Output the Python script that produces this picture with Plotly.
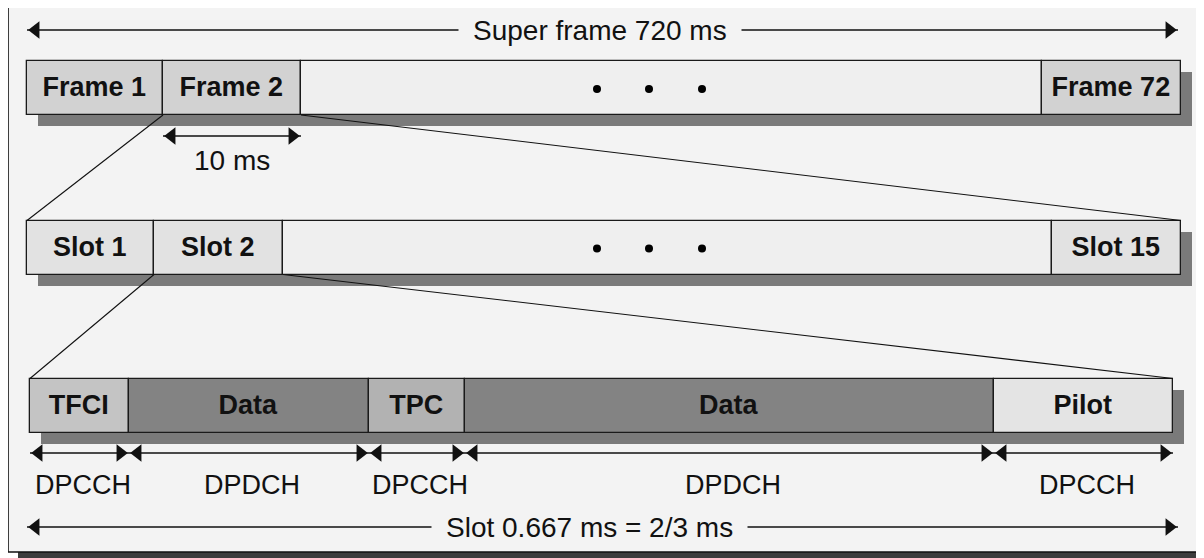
import plotly.graph_objects as go

# ---------------- data ----------------
frame_labels = ["Frame 1", "Frame 2", "", "Frame 72"]
frame_edges = [27, 163, 301, 1042, 1181]
frame_colors = ["#d2d2d2", "#d2d2d2", "#efefef", "#d2d2d2"]

slot_labels = ["Slot 1", "Slot 2", "", "Slot 15"]
slot_edges = [27, 154, 283, 1052, 1181]
slot_colors = ["#e2e2e2", "#e2e2e2", "#efefef", "#e2e2e2"]

field_labels = ["TFCI", "Data", "TPC", "Data", "Pilot"]
field_edges = [30, 129, 369, 465, 994, 1173]
field_colors = ["#c4c4c4", "#838383", "#b2b2b2", "#838383", "#e4e4e4"]
channel_labels = ["DPCCH", "DPDCH", "DPCCH", "DPDCH", "DPCCH"]

superframe_label = "Super frame 720 ms"
frame_len_label = "10 ms"
slot_len_label = "Slot 0.667 ms = 2/3 ms"

# ---------------- layout constants ----------------
W, H = 1204, 558
PAGE_MARGIN = 8          # default body margin of the html page
ROW_Y = [88, 247.5, 405.5]
ROW_H = 54
SH = 11                 # shadow offset
ARROW_TOP_Y = 30
ARROW_10MS_Y = 136
CHAN_ARROW_Y = 453
CHAN_TEXT_Y = 485
BOTTOM_ARROW_Y = 527
ELLIPSIS_X = [597, 649, 702]
BG = "#f3f3f3"
FONT = "Liberation Sans"
FS = 28
TRI = 15
TIP = TRI / 3 ** 0.5

fig = go.Figure()


def add_row(edges, labels, colors, yc):
    starts = edges[:-1]
    widths = [b - a for a, b in zip(edges[:-1], edges[1:])]
    # shadow
    fig.add_trace(go.Bar(
        orientation="h", y=[yc + SH], base=[edges[0] + SH], x=[edges[-1] - edges[0]],
        width=ROW_H, marker=dict(color="#7a7a7a", line=dict(width=0)),
        hoverinfo="skip", showlegend=False))
    fig.add_trace(go.Bar(
        orientation="h", y=[yc] * len(starts), base=starts, x=widths,
        width=ROW_H, marker=dict(color=colors, line=dict(color="#1a1a1a", width=1.3)),
        text=labels, textposition="inside", insidetextanchor="middle",
        constraintext="none", textangle=0,
        textfont=dict(family=FONT, size=FS - 1, color="#111111", weight="bold"),
        hoverinfo="skip", showlegend=False))


def add_arrow(x0, x1, y, left=True, right=True):
    fig.add_trace(go.Scatter(
        x=[x0, x1], y=[y, y], mode="lines", line=dict(color="#111111", width=1.6),
        hoverinfo="skip", showlegend=False))
    xs, sy = [], []
    if left:
        xs.append(x0 + TIP); sy.append("triangle-left")
    if right:
        xs.append(x1 - TIP); sy.append("triangle-right")
    fig.add_trace(go.Scatter(
        x=xs, y=[y] * len(xs), mode="markers",
        marker=dict(symbol=sy, size=TRI, color="#111111", line=dict(width=0)),
        hoverinfo="skip", showlegend=False))


def add_line(x0, y0, x1, y1):
    fig.add_trace(go.Scatter(
        x=[x0, x1], y=[y0, y1], mode="lines", line=dict(color="#111111", width=1.1),
        hoverinfo="skip", showlegend=False))


# rows
add_row(frame_edges, frame_labels, frame_colors, ROW_Y[0])
add_row(slot_edges, slot_labels, slot_colors, ROW_Y[1])
add_row(field_edges, field_labels, field_colors, ROW_Y[2])

# zoom lines
r0b = ROW_Y[0] + ROW_H / 2
r1t = ROW_Y[1] - ROW_H / 2
r1b = ROW_Y[1] + ROW_H / 2
r2t = ROW_Y[2] - ROW_H / 2
add_line(frame_edges[1], r0b, slot_edges[0], r1t)
add_line(frame_edges[2], r0b, slot_edges[-1], r1t)
add_line(slot_edges[1], r1b, field_edges[0], r2t)
add_line(slot_edges[2], r1b, field_edges[-1], r2t)

# ellipsis dots
for yc in ROW_Y[:2]:
    fig.add_trace(go.Scatter(
        x=ELLIPSIS_X, y=[yc + 1] * 3, mode="markers",
        marker=dict(size=8, color="#000000"), hoverinfo="skip", showlegend=False))

# arrows
add_arrow(frame_edges[0], frame_edges[-1] - 3, ARROW_TOP_Y)
add_arrow(frame_edges[1], frame_edges[2], ARROW_10MS_Y)
for a, b in zip(field_edges[:-1], field_edges[1:]):
    add_arrow(a, b, CHAN_ARROW_Y)
add_arrow(field_edges[0] - 3, field_edges[-1] + 5, BOTTOM_ARROW_Y)

annotations = [
    dict(x=(frame_edges[0] + frame_edges[-1]) / 2 - 4, y=ARROW_TOP_Y,
         text="\u2002" + superframe_label + "\u2002",
         showarrow=False, bgcolor=BG, borderpad=0,
         font=dict(family=FONT, size=FS, color="#111111")),
    dict(x=(frame_edges[1] + frame_edges[2]) / 2, y=ARROW_10MS_Y + 24, text=frame_len_label,
         showarrow=False, font=dict(family=FONT, size=FS, color="#111111")),
    dict(x=(field_edges[0] + field_edges[-1]) / 2 - 12, y=BOTTOM_ARROW_Y,
         text="\u2002" + slot_len_label + "\u2002",
         showarrow=False, bgcolor=BG, borderpad=0,
         font=dict(family=FONT, size=FS, color="#111111")),
]
for lab, a, b in zip(channel_labels, field_edges[:-1], field_edges[1:]):
    annotations.append(dict(x=(a + b) / 2 + 3, y=CHAN_TEXT_Y, text=lab, showarrow=False,
                            font=dict(family=FONT, size=FS - 1, color="#111111")))
for ann in annotations:
    ann.update(xref="x", yref="y")

shapes = [
    dict(type="rect", xref="x", yref="y", x0=18, y0=14, x1=1212, y1=566,
         fillcolor="#3c3c3c", line=dict(width=0), layer="below"),
    dict(type="rect", xref="x", yref="y", x0=8, y0=6, x1=1200, y1=552,
         fillcolor=BG, line=dict(color="#111111", width=1.6), layer="below"),
]

fig.update_layout(
    width=W - PAGE_MARGIN, height=H - PAGE_MARGIN, margin=dict(l=0, r=0, t=0, b=0),
    paper_bgcolor="white", plot_bgcolor="white",
    barmode="overlay", bargap=0,
    xaxis=dict(range=[PAGE_MARGIN, W], visible=False, fixedrange=True),
    yaxis=dict(range=[H, PAGE_MARGIN], visible=False, fixedrange=True),
    shapes=shapes, annotations=annotations, showlegend=False,
)

fig.write_html("out.html")
